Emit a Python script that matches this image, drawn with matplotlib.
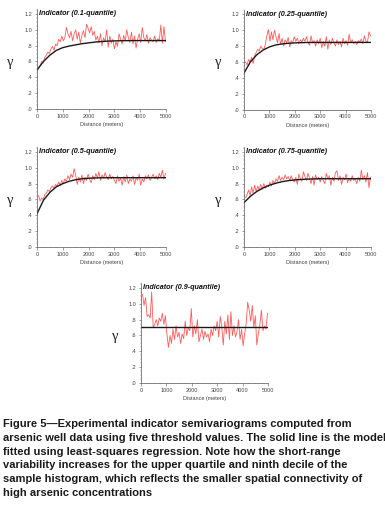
import numpy as np
import matplotlib
matplotlib.use("Agg")
import matplotlib.pyplot as plt
from matplotlib.ticker import MultipleLocator, FixedLocator

# ---------------- data ----------------
titles = ["Indicator (0.1-quantile)", "Indicator (0.25-quantile)",
          "Indicator (0.5-quantile)", "Indicator (0.75-quantile)",
          "Indicator (0.9-quantile)"]

lags = np.arange(1, 84) * 60          # experimental lag distances (m)
model_lags = np.arange(0, 21) * 250   # model curve read at these distances (m)

exp_q10 = [0.52, 0.55, 0.6, 0.58, 0.65, 0.68, 0.72, 0.7, 0.76, 0.79,
           0.74, 0.82, 0.8, 0.88, 0.85, 0.92, 0.86, 0.9, 1.03, 0.95,
           0.9, 0.98, 0.86, 0.95, 1.0, 0.88, 0.97, 0.83, 0.93, 0.99,
           0.9, 1.07, 1.02, 0.96, 1.04, 0.93, 0.98, 0.87, 0.92, 0.84,
           0.95, 0.8, 0.9, 0.85, 1.0, 0.78, 0.92, 0.83, 0.88, 0.76,
           0.85, 0.79, 0.95, 0.88, 0.82, 0.93, 0.86, 1.0, 0.9, 0.84,
           0.97, 0.82, 0.92, 0.77, 0.88, 0.95, 0.84, 1.03, 0.9, 0.86,
           0.94, 0.83, 0.9, 0.87, 0.85, 0.92, 0.84, 0.89, 0.86, 1.06,
           0.83, 1.04, 0.85]
exp_q25 = [0.6, 0.56, 0.63, 0.6, 0.66, 0.58, 0.68, 0.72, 0.76, 0.74,
           0.8, 0.77, 0.76, 0.82, 0.93, 1.01, 0.86, 0.98, 0.88, 1.0,
           0.92, 0.84, 0.96, 0.82, 0.9, 0.8, 0.88, 0.84, 0.91, 0.79,
           0.87, 0.84, 0.92, 0.86, 0.9, 0.83, 0.88, 0.85, 0.9, 0.86,
           0.92, 0.85, 0.81, 0.93, 0.84, 0.87, 0.8, 0.88, 0.83, 0.9,
           0.78, 0.86, 0.8, 0.92, 0.76, 0.88, 0.82, 0.9, 0.84, 0.8,
           0.88, 0.82, 0.86, 0.79, 0.9, 0.83, 0.87, 0.81, 0.95, 0.84,
           0.88, 0.83, 0.86, 0.82, 0.87, 0.85, 0.89, 0.83, 0.93, 0.86,
           0.85, 0.98, 0.93]
exp_q50 = [0.65, 0.58, 0.62, 0.6, 0.66, 0.68, 0.72, 0.7, 0.75, 0.77,
           0.74, 0.79, 0.77, 0.82, 0.78, 0.84, 0.8, 0.86, 0.83, 0.9,
           0.85, 0.92, 0.88, 0.99, 0.9, 0.79, 0.88, 0.82, 0.91, 0.8,
           0.88, 0.84, 0.92, 0.86, 0.81, 0.9, 0.85, 0.93, 0.87, 0.95,
           0.84, 0.91, 0.87, 0.94, 0.88, 0.85, 0.92, 0.86, 0.89, 0.84,
           0.8, 0.9, 0.83, 0.87, 0.78, 0.89, 0.82, 0.91, 0.8, 0.86,
           0.83, 0.9, 0.79, 0.88, 0.84, 0.92, 0.78, 0.86, 0.82, 0.9,
           0.86, 0.91, 0.84, 0.88, 0.92, 0.86, 0.9, 0.85, 0.93, 0.88,
           0.97, 0.86, 0.93]
exp_q75 = [0.62, 0.66, 0.72, 0.65, 0.76, 0.68, 0.78, 0.7, 0.77, 0.72,
           0.79, 0.73, 0.8, 0.74, 0.78, 0.76, 0.82, 0.77, 0.84, 0.8,
           0.86, 0.83, 0.9, 0.84, 0.88, 0.85, 0.91, 0.86, 0.89, 0.84,
           0.9, 0.85, 0.82, 0.88, 0.79, 0.92, 0.86, 0.83, 0.95, 0.89,
           0.84, 0.93, 0.87, 0.8, 0.89, 0.78, 0.91, 0.85, 0.88, 0.82,
           0.89, 0.84, 0.8, 0.93, 0.86, 0.9, 0.78, 0.88, 0.83, 0.94,
           0.96, 0.84, 0.9, 0.79, 0.88, 0.85, 0.92, 0.81, 0.87, 0.83,
           0.9, 0.84, 0.86, 0.8, 0.88, 0.83, 0.97, 0.85, 0.9, 0.82,
           0.94, 0.75, 0.88]
exp_q90 = [1.12, 0.98, 1.08, 0.84, 0.86, 0.82, 1.15, 0.7, 0.74, 0.8,
           0.72, 0.82, 0.78, 0.88, 0.74, 0.85, 0.62, 0.45, 0.6, 0.5,
           0.68, 0.55, 0.72, 0.58, 0.64, 0.5, 0.62, 0.56, 0.78, 0.6,
           0.7, 0.66, 0.94, 0.58, 0.72, 0.62, 0.8, 0.52, 0.6, 0.68,
           0.55, 0.65, 0.58, 0.62, 0.52, 0.68, 0.6, 0.72, 0.66, 0.78,
           0.58, 0.84, 0.7, 0.48, 0.78, 0.62, 0.86, 0.55, 0.9, 0.6,
           0.72, 0.58, 0.65, 0.8, 0.55, 0.68, 0.47, 0.62, 0.75, 1.02,
           0.92, 0.78, 0.98, 0.7, 0.85, 0.48, 0.62, 0.74, 0.92, 0.66,
           0.72, 0.68, 0.88]

mod_q10 = [0.49, 0.6, 0.68, 0.74, 0.775, 0.795, 0.81, 0.825, 0.835, 0.845,
           0.852, 0.857, 0.86, 0.862, 0.863, 0.864, 0.864, 0.864, 0.864, 0.864, 0.864]
mod_q25 = [0.46, 0.6, 0.69, 0.75, 0.79, 0.815, 0.828, 0.836, 0.841, 0.844,
           0.846, 0.847, 0.847, 0.847, 0.847, 0.847, 0.847, 0.847, 0.847, 0.847, 0.847]
mod_q50 = [0.42, 0.59, 0.69, 0.76, 0.8, 0.83, 0.85, 0.862, 0.868, 0.872,
           0.874, 0.875, 0.875, 0.875, 0.875, 0.875, 0.875, 0.875, 0.875, 0.875, 0.875]
mod_q75 = [0.56, 0.64, 0.7, 0.745, 0.78, 0.805, 0.825, 0.838, 0.847, 0.853,
           0.857, 0.86, 0.862, 0.862, 0.862, 0.862, 0.862, 0.862, 0.862, 0.862, 0.862]
mod_q90 = [0.71] * 21

ytick_vals = [0.0, 0.2, 0.4, 0.6, 0.8, 1.0, 1.2]
ytick_labels = [".0", ".2", ".4", ".6", ".8", "1.0", "1.2"]
xtick_vals = [0, 1000, 2000, 3000, 4000, 5000]
xtick_labels = ["0", "1000", "2000", "3000", "4000", "5000"]

caption = ("Figure 5\u2014Experimental indicator semivariograms computed from\n"
           "arsenic well data using five threshold values. The solid line is the model\n"
           "fitted using least-squares regression. Note how the short-range\n"
           "variability increases for the upper quartile and ninth decile of the\n"
           "sample histogram, which reflects the smaller spatial connectivity of\n"
           "high arsenic concentrations")

# ---------------- layout ----------------
W, H = 385, 524
fig = plt.figure(figsize=(W / 100, H / 100), dpi=100)
plt.rcParams['font.family'] = ['Liberation Sans', 'DejaVu Sans']

# (left px, y of zero px, width px)
panels = [(37, 109, 129), (244, 109.5, 127), (37, 247, 129), (244, 247, 127), (141, 383, 127)]
exps = [exp_q10, exp_q25, exp_q50, exp_q75, exp_q90]
mods = [mod_q10, mod_q25, mod_q50, mod_q75, mod_q90]
px_per_unit = 79.2
ytop = 1.26

for (lx, y0, wpx), ttl, ev, mv in zip(panels, titles, exps, mods):
    hpx = ytop * px_per_unit
    ax = fig.add_axes([lx / W, 1 - y0 / H, wpx / W, hpx / H])
    ax.plot(lags, ev, color='#ff5a5a', lw=0.6)
    ax.plot(model_lags, mv, color='#1a1a1a', lw=1.0)
    ax.set_xlim(0, 5000)
    ax.set_ylim(0, ytop)
    for s in ['top', 'right']:
        ax.spines[s].set_visible(False)
    for s in ['left', 'bottom']:
        ax.spines[s].set_linewidth(0.5)
        ax.spines[s].set_color('#555555')
    ax.yaxis.set_major_locator(FixedLocator(ytick_vals))
    ax.set_yticklabels(ytick_labels)
    ax.yaxis.set_minor_locator(MultipleLocator(0.05))
    ax.xaxis.set_major_locator(FixedLocator(xtick_vals))
    ax.set_xticklabels(xtick_labels)
    ax.xaxis.set_minor_locator(MultipleLocator(250))
    ax.tick_params(which='major', length=1.8, width=0.4, labelsize=4, pad=1.5,
                   colors='#555555', labelcolor='#444444')
    ax.tick_params(which='minor', length=1.0, width=0.3, colors='#777777')
    ax.set_xlabel("Distance (meters)", fontsize=4, labelpad=2.5, color='#444444')
    ax.text(60, 1.2, ttl, fontsize=5.2, fontweight='bold', fontstyle='italic',
            va='center', ha='left', color='#111111')
    ax.text(-0.21 if lx < 100 else -0.2, 0.47, "\u03b3", transform=ax.transAxes,
            fontsize=10.5, family=['Liberation Serif', 'DejaVu Serif'],
            ha='center', va='center', color='#222222')
    ax.patch.set_visible(False)

fig.text(3 / W, 1 - 419 / H, caption, fontsize=8.05, fontweight='bold',
         family=['Liberation Sans', 'DejaVu Sans'],
         ha='left', va='top', linespacing=1.47, color='#1a1a1a')

fig.savefig("out.png", dpi=100)
